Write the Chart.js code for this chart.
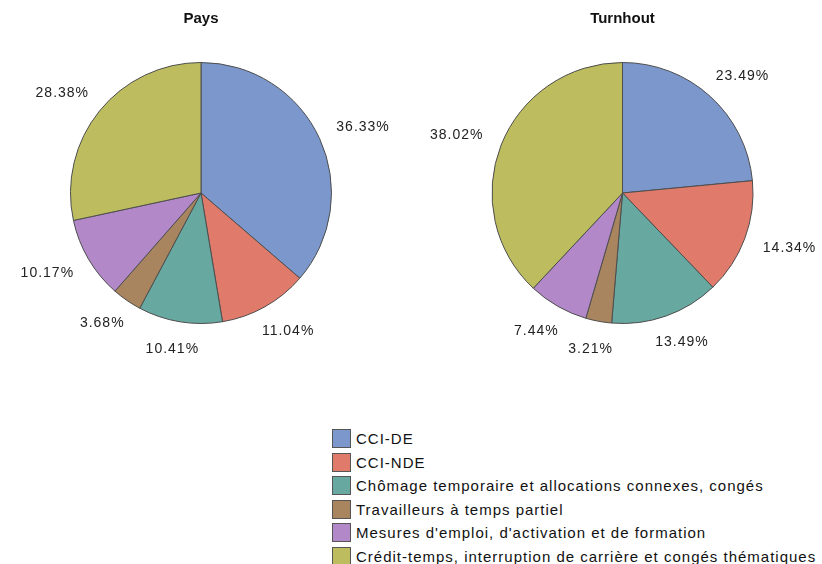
<!DOCTYPE html>
<html>
<head>
<meta charset="utf-8">
<script src="https://cdn.jsdelivr.net/npm/chart.js@4"></script>
<style>
  body { margin: 0; background: #fff; font-family: "Liberation Sans", Arial, sans-serif; }
  #page { position: relative; width: 822px; height: 564px; overflow: hidden; }
  .pie { position: absolute; top: 0; width: 411px; height: 400px; }
  #legend { position: absolute; left: 332px; top: 427px; }
  .row { display: flex; align-items: center; height: 23.5px; font-size: 15px; letter-spacing: 1px; color: #111; white-space: nowrap; }
  .box { width: 17px; height: 17px; border: 1px solid #555; margin-right: 5px; box-sizing: content-box; }
</style>
</head>
<body>
<div id="page">
  <div class="pie" style="left:0"><canvas id="pays"></canvas></div>
  <div class="pie" style="left:411px"><canvas id="turnhout"></canvas></div>
  <div id="legend"></div>
</div>
<script>
var categories = [
    "CCI-DE",
    "CCI-NDE",
    "Chômage temporaire et allocations connexes, congés",
    "Travailleurs à temps partiel",
    "Mesures d'emploi, d'activation et de formation",
    "Crédit-temps, interruption de carrière et congés thématiques"
];
var paysValues = [36.33, 11.04, 10.41, 3.68, 10.17, 28.38];
var turnhoutValues = [23.49, 14.34, 13.49, 3.21, 7.44, 38.02];
var colors = ["#7b97cc", "#e07b6b", "#67a8a1", "#a8845f", "#b388c9", "#bdbd5f"];

// étiquettes en % autour de chaque part
var pctLabels = {
    id: "pctLabels",
    afterDatasetsDraw: function (chart) {
        var ctx = chart.ctx;
        var meta = chart.getDatasetMeta(0);
        var data = chart.data.datasets[0].data;
        ctx.save();
        ctx.font = "14px 'Liberation Sans', Arial, sans-serif";
        ctx.letterSpacing = "1px";
        ctx.fillStyle = "#222";
        ctx.textAlign = "center";
        ctx.textBaseline = "middle";
        meta.data.forEach(function (arc, i) {
            var p = arc.getProps(["x", "y", "startAngle", "endAngle", "outerRadius"], true);
            var mid = (p.startAngle + p.endAngle) / 2;
            var txt = data[i].toFixed(2) + "%";
            var w = ctx.measureText(txt).width;
            var dx = Math.cos(mid), dy = Math.sin(mid);
            var r = p.outerRadius + 21;
            ctx.fillText(txt, p.x + dx * r + dx * w / 2, p.y + dy * r + dy * 7);
        });
        ctx.restore();
    }
};

function geraPie(id, titulo, valores, padL, padR) {
    return new Chart(document.getElementById(id), {
        type: "pie",
        data: {
            labels: categories,
            datasets: [{
                data: valores,
                backgroundColor: colors,
                borderColor: "#4d4d4d",
                borderWidth: 1
            }]
        },
        options: {
            responsive: true,
            maintainAspectRatio: false,
            animation: false,
            layout: { padding: { left: padL, right: padR, top: 0, bottom: 76 } },
            plugins: {
                legend: { display: false },
                tooltip: { enabled: false },
                title: {
                    display: true,
                    text: titulo,
                    color: "#111",
                    font: { family: "'Liberation Sans', Arial, sans-serif", size: 15, weight: "bold", lineHeight: 1.2 },
                    padding: { top: 10, bottom: 34 }
                }
            }
        },
        plugins: [pctLabels]
    });
}

geraPie("pays", "Pays", paysValues, 60, 69);
geraPie("turnhout", "Turnhout", turnhoutValues, 70, 58);

var legend = document.getElementById("legend");
categories.forEach(function (c, i) {
    var row = document.createElement("div");
    row.className = "row";
    var box = document.createElement("span");
    box.className = "box";
    box.style.background = colors[i];
    var txt = document.createElement("span");
    txt.textContent = c;
    row.appendChild(box);
    row.appendChild(txt);
    legend.appendChild(row);
});
</script>
</body>
</html>
